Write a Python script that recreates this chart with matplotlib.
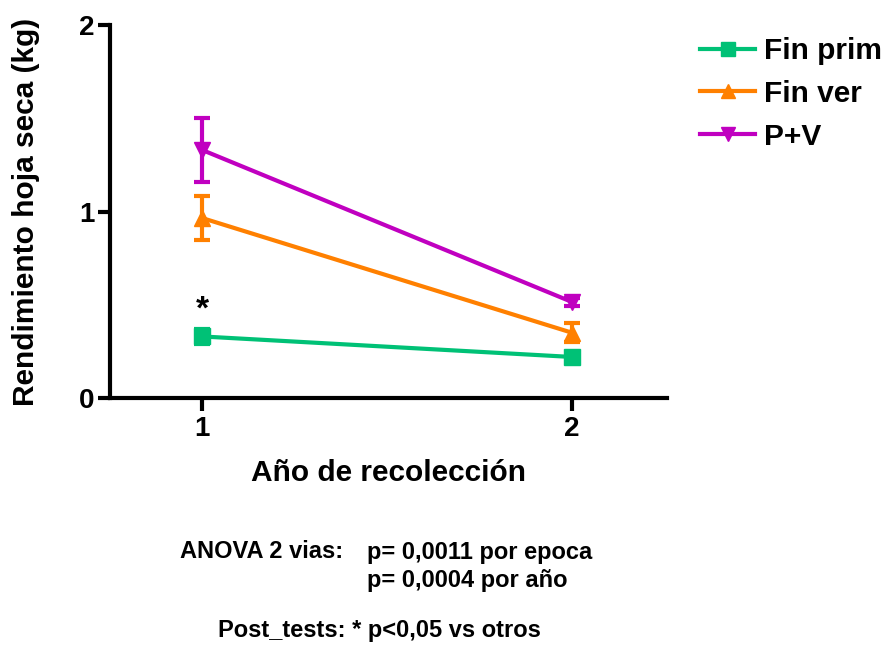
import matplotlib
matplotlib.use("Agg")
import matplotlib.pyplot as plt

plt.rcParams['font.family'] = ['Liberation Sans', 'DejaVu Sans']
plt.rcParams['font.weight'] = 'bold'

years = [1, 2]
series_names = ["Fin prim", "Fin ver", "P+V"]
fin_prim = [0.33, 0.22]
fin_prim_err = [0.04, 0.02]
fin_ver = [0.965, 0.35]
fin_ver_err = [0.12, 0.05]
pv = [1.33, 0.515]
pv_err = [0.17, 0.02]

colors = ["#00C176", "#FF8000", "#C000C0"]
markers = ["s", "^", "v"]

fig = plt.figure(figsize=(8.88, 6.45), dpi=100)
ax = fig.add_axes([110 / 888, 1 - 398 / 645, (667 - 110) / 888, (398 - 25) / 645])

handles = []
for name, vals, errs, c, m in zip(series_names, [fin_prim, fin_ver, pv],
                                  [fin_prim_err, fin_ver_err, pv_err], colors, markers):
    cont = ax.errorbar(years, vals, yerr=errs, color=c, marker=m, markersize=11,
                       linewidth=3, elinewidth=3, capsize=6, capthick=3, label=name)
    handles.append(cont.lines[0])

ax.text(1, fin_prim[0] + 0.14, "*", ha="center", va="center", fontsize=24,
        fontweight="bold")

ax.set_xlim(0.751, 2.257)
ax.set_ylim(0, 2)
ax.set_xticks([1, 2])
ax.set_yticks([0, 1, 2])
ax.set_xticklabels(["1", "2"], fontsize=20, fontweight="bold")
ax.set_yticklabels(["0", "1", "2"], fontsize=20, fontweight="bold")
for s in ["top", "right"]:
    ax.spines[s].set_visible(False)
for s in ["left", "bottom"]:
    ax.spines[s].set_linewidth(3)
ax.tick_params(axis="y", length=9, width=3, pad=2)
ax.tick_params(axis="x", length=9, width=3, pad=4)
ax.set_xlabel("Año de recolección", fontsize=21.5, fontweight="bold", labelpad=12)
ax.set_ylabel("Rendimiento hoja seca (kg)", fontsize=21.5, fontweight="bold", labelpad=28)

fig.legend(handles, series_names, loc="upper left",
           bbox_to_anchor=(700 / 888, 1 - 37 / 645),
           frameon=False, fontsize=21.5, handlelength=1.85, handletextpad=0.3,
           labelspacing=0.5, markerscale=0.95, borderaxespad=0, borderpad=0)

fs_note = 17
fig.text(180 / 888, 1 - 552 / 645, "ANOVA 2 vias:",
         fontsize=fs_note, fontweight="bold", va="center", ha="left")
fig.text(367 / 888, 1 - 552 / 645, "p= 0,0011 por epoca",
         fontsize=fs_note, fontweight="bold", va="center", ha="left")
fig.text(367 / 888, 1 - 581 / 645, "p= 0,0004 por año",
         fontsize=fs_note, fontweight="bold", va="center", ha="left")
fig.text(218 / 888, 1 - 631 / 645, "Post_tests: * p<0,05 vs otros",
         fontsize=fs_note, fontweight="bold", va="center", ha="left")

fig.savefig("out.png", dpi=100)
